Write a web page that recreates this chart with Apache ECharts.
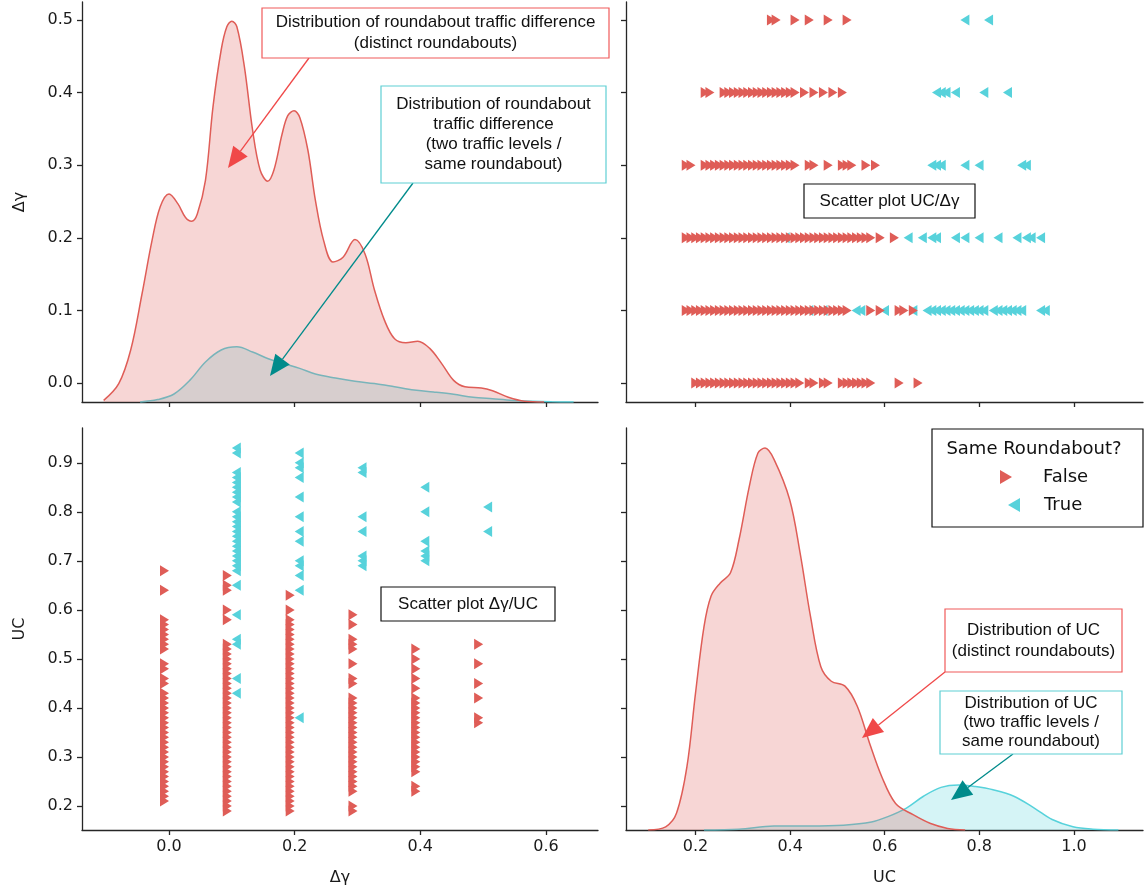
<!DOCTYPE html>
<html>
<head>
<meta charset="utf-8">
<script src="https://cdn.jsdelivr.net/npm/echarts@6/dist/echarts.min.js"></script>
<style>
html, body { margin: 0; padding: 0; background: #fff; }
#chart { width: 1148px; height: 892px; }
</style>
</head>
<body>
<div id="chart"></div>
<script>
// discrete Δγ levels
var dgLevels = [0.0, 0.1, 0.2, 0.3, 0.4, 0.5];

// UC values per Δγ level, Same Roundabout? = False
var ucFalse = [
    [0.21, 0.22, 0.23, 0.24, 0.25, 0.26, 0.27, 0.28, 0.29, 0.30, 0.31, 0.32, 0.33, 0.34, 0.35, 0.36, 0.37, 0.38, 0.39, 0.40, 0.41, 0.42, 0.43, 0.45, 0.46, 0.48, 0.49, 0.52, 0.53, 0.54, 0.55, 0.56, 0.57, 0.58, 0.64, 0.68],
    [0.19, 0.20, 0.21, 0.22, 0.23, 0.24, 0.25, 0.26, 0.27, 0.28, 0.29, 0.30, 0.31, 0.32, 0.33, 0.34, 0.35, 0.36, 0.37, 0.38, 0.39, 0.40, 0.41, 0.42, 0.43, 0.44, 0.45, 0.46, 0.47, 0.48, 0.49, 0.50, 0.51, 0.52, 0.53, 0.58, 0.60, 0.64, 0.65, 0.67],
    [0.19, 0.20, 0.21, 0.22, 0.23, 0.24, 0.25, 0.26, 0.27, 0.28, 0.29, 0.30, 0.31, 0.32, 0.33, 0.34, 0.35, 0.36, 0.37, 0.38, 0.39, 0.40, 0.41, 0.42, 0.43, 0.44, 0.45, 0.46, 0.47, 0.48, 0.49, 0.50, 0.51, 0.52, 0.53, 0.54, 0.55, 0.56, 0.57, 0.58, 0.60, 0.63],
    [0.19, 0.20, 0.23, 0.24, 0.25, 0.26, 0.27, 0.28, 0.29, 0.30, 0.31, 0.32, 0.33, 0.34, 0.35, 0.36, 0.37, 0.38, 0.39, 0.40, 0.41, 0.42, 0.45, 0.46, 0.49, 0.52, 0.53, 0.54, 0.57, 0.59],
    [0.23, 0.24, 0.27, 0.28, 0.29, 0.30, 0.31, 0.32, 0.33, 0.34, 0.35, 0.36, 0.37, 0.38, 0.39, 0.40, 0.41, 0.42, 0.44, 0.46, 0.48, 0.50, 0.52],
    [0.37, 0.38, 0.42, 0.45, 0.49, 0.53]
];

// UC values per Δγ level, Same Roundabout? = True
var ucTrue = [
    [],
    [0.43, 0.46, 0.53, 0.54, 0.59, 0.65, 0.68, 0.69, 0.70, 0.71, 0.72, 0.73, 0.74, 0.75, 0.76, 0.77, 0.78, 0.79, 0.80, 0.82, 0.83, 0.84, 0.85, 0.86, 0.87, 0.88, 0.92, 0.93],
    [0.38, 0.64, 0.67, 0.69, 0.70, 0.74, 0.76, 0.79, 0.83, 0.87, 0.89, 0.90, 0.92],
    [0.69, 0.70, 0.71, 0.76, 0.79, 0.88, 0.89],
    [0.70, 0.71, 0.72, 0.74, 0.80, 0.85],
    [0.76, 0.81]
];

// KDE of Δγ
var kdeDgFalseX = [-0.104, -0.08, -0.061, -0.043, -0.027, -0.014, 0.0, 0.014, 0.026, 0.036, 0.045, 0.058, 0.070, 0.083, 0.092, 0.1, 0.108, 0.12, 0.133, 0.145, 0.157, 0.167, 0.18, 0.189, 0.199, 0.208, 0.221, 0.233, 0.246, 0.261, 0.277, 0.296, 0.312, 0.327, 0.343, 0.359, 0.377, 0.396, 0.415, 0.434, 0.453, 0.471, 0.497, 0.515, 0.54, 0.566, 0.597];
var kdeDgFalseY = [0.02, 0.23, 0.65, 1.35, 2.02, 2.44, 2.60, 2.48, 2.31, 2.26, 2.35, 2.77, 3.69, 4.40, 4.69, 4.76, 4.69, 4.19, 3.40, 2.90, 2.76, 2.90, 3.35, 3.58, 3.64, 3.56, 3.15, 2.52, 2.02, 1.75, 1.81, 2.03, 1.85, 1.40, 1.02, 0.79, 0.74, 0.76, 0.67, 0.48, 0.27, 0.19, 0.175, 0.14, 0.06, 0.01, 0];
var kdeDgTrueX = [-0.046, -0.018, 0.008, 0.033, 0.058, 0.083, 0.108, 0.133, 0.158, 0.183, 0.208, 0.233, 0.265, 0.296, 0.327, 0.359, 0.39, 0.421, 0.453, 0.484, 0.515, 0.547, 0.578, 0.609, 0.644];
var kdeDgTrueY = [0, 0.03, 0.10, 0.27, 0.5, 0.65, 0.69, 0.625, 0.54, 0.48, 0.42, 0.35, 0.30, 0.26, 0.23, 0.19, 0.15, 0.125, 0.096, 0.06, 0.04, 0.02, 0.008, 0.002, 0];

// KDE of UC
var kdeUcFalseX = [0.10, 0.137, 0.16, 0.182, 0.2, 0.218, 0.233, 0.252, 0.274, 0.292, 0.314, 0.332, 0.347, 0.366, 0.399, 0.421, 0.443, 0.465, 0.487, 0.516, 0.542, 0.568, 0.594, 0.623, 0.66, 0.697, 0.733, 0.77];
var kdeUcFalseY = [0, 0.04, 0.21, 0.79, 1.70, 2.53, 2.91, 3.07, 3.2, 3.61, 4.28, 4.69, 4.75, 4.61, 4.11, 3.45, 2.66, 2.03, 1.85, 1.79, 1.54, 1.08, 0.66, 0.33, 0.19, 0.08, 0.02, 0];
var kdeUcTrueX = [0.218, 0.292, 0.366, 0.439, 0.513, 0.572, 0.608, 0.645, 0.682, 0.719, 0.756, 0.792, 0.829, 0.873, 0.917, 0.954, 0.998, 1.04, 1.094];
var kdeUcTrueY = [0, 0.01, 0.05, 0.05, 0.06, 0.1, 0.17, 0.27, 0.42, 0.53, 0.56, 0.54, 0.5, 0.42, 0.27, 0.13, 0.04, 0.01, 0];

// tick labels
var dgTicksX = [0.0, 0.2, 0.4, 0.6];
var dgTicksY = [0.0, 0.1, 0.2, 0.3, 0.4, 0.5];
var ucTicksX = [0.2, 0.4, 0.6, 0.8, 1.0];
var ucTicksY = [0.2, 0.3, 0.4, 0.5, 0.6, 0.7, 0.8, 0.9];

var RED = '#df5d57', TEAL = '#57d2db';
var AXIS = '#262626';
var TRI_R = 'path://M0,0L10,6L0,12Z';
var TRI_L = 'path://M10,0L0,6L10,12Z';

function pairs(xs, ys) {
    return xs.map(function (x, i) { return [x, ys[i]]; });
}
function points(lists, swap) {
    var out = [];
    lists.forEach(function (list, i) {
        list.forEach(function (uc) {
            out.push(swap ? [uc, dgLevels[i]] : [dgLevels[i], uc]);
        });
    });
    return out;
}

function axis(opt) {
    var showLabel = opt.labels !== false;
    var a = {
        type: 'value',
        gridIndex: opt.grid,
        min: opt.min,
        max: opt.max,
        scale: true,
        splitLine: {show: false},
        axisLine: {show: true, onZero: false, lineStyle: {color: AXIS, width: 1.3}},
        axisTick: {show: true, inside: false, length: 5, customValues: opt.ticks, lineStyle: {color: AXIS, width: 1.3}},
        axisLabel: {
            show: showLabel,
            customValues: opt.ticks,
            color: '#1a1a1a',
            fontSize: 16,
            fontFamily: 'DejaVu Sans',
            margin: 9,
            formatter: function (v) { return v.toFixed(1); }
        }
    };
    if (opt.name) {
        a.name = opt.name;
        a.nameLocation = 'middle';
        a.nameGap = opt.nameGap;
        a.nameTextStyle = {color: '#1a1a1a', fontSize: 16, fontFamily: 'DejaVu Sans'};
    }
    return a;
}

function densAxis(grid) {
    return {type: 'value', gridIndex: grid, min: 0, max: 5, show: false, splitLine: {show: false}};
}

// z keeps the red fill above the teal line, as in the reference
function kde(name, data, color, xi, yi, z) {
    return {
        name: name, type: 'line', xAxisIndex: xi, yAxisIndex: yi, z: z,
        data: data, smooth: 0.35, showSymbol: false, symbol: 'none',
        lineStyle: {color: color, width: 1.5},
        areaStyle: {color: color, opacity: 0.25},
        silent: true
    };
}

function scatter(name, data, color, sym, off, xi, yi, z) {
    return {
        name: name, type: 'scatter', xAxisIndex: xi, yAxisIndex: yi, z: z,
        data: data, symbol: sym, symbolSize: [9, 11], symbolOffset: [off, 0],
        itemStyle: {color: color, opacity: 1}, silent: true
    };
}

var FONT = '"Liberation Sans", Arial, sans-serif';

function box(x, y, w, h, stroke, lines, size, lh) {
    return [
        {type: 'rect', z: 100, shape: {x: x, y: y, width: w, height: h},
            style: {fill: '#fff', stroke: stroke, lineWidth: 1.2}},
        {type: 'text', z: 101, x: x + w / 2, y: y + h / 2,
            style: {text: lines.join('\n'), fill: '#111', font: size + 'px ' + FONT,
                align: 'center', verticalAlign: 'middle', textAlign: 'center', textVerticalAlign: 'middle', lineHeight: lh}}
    ];
}

function arrow(x1, y1, x2, y2, color) {
    var dx = x2 - x1, dy = y2 - y1, len = Math.sqrt(dx * dx + dy * dy);
    var ux = dx / len, uy = dy / len, L = 21, W = 9;
    var bx = x2 - ux * L, by = y2 - uy * L;
    return [
        {type: 'line', z: 100, shape: {x1: x1, y1: y1, x2: bx, y2: by}, style: {stroke: color, lineWidth: 1.3}},
        {type: 'polygon', z: 100, shape: {points: [[x2, y2], [bx - uy * W, by + ux * W], [bx + uy * W, by - ux * W]]},
            style: {fill: color}}
    ];
}

var LEG = '18px "DejaVu Sans"';
var graphics = [].concat(
    arrow(309, 58, 228, 168, '#f04848'),
    arrow(413, 183, 270, 376, '#008b8b'),
    arrow(945, 672, 862, 738, '#f04848'),
    arrow(1013, 754, 951, 800, '#008b8b'),
    box(262, 8, 347, 50, '#f05a5a', ['Distribution of roundabout traffic difference', '(distinct roundabouts)'], 17, 21),
    box(381, 86, 225, 97, '#5fcfd4', ['Distribution of roundabout', 'traffic difference', '(two traffic levels /', 'same roundabout)'], 17, 20),
    box(804, 184, 171, 34, '#111', ['Scatter plot UC/Δγ'], 17, 20),
    box(381, 587, 174, 34, '#111', ['Scatter plot Δγ/UC'], 17, 20),
    box(945, 609, 177, 63, '#f05a5a', ['Distribution of UC', '(distinct roundabouts)'], 17, 21),
    box(940, 691, 182, 63, '#5fcfd4', ['Distribution of UC', '(two traffic levels /', 'same roundabout)'], 17, 19),
    [
        {type: 'rect', z: 100, shape: {x: 932, y: 429, width: 211, height: 98},
            style: {fill: '#fff', stroke: '#111', lineWidth: 1.2}},
        {type: 'text', z: 101, x: 1034, y: 449,
            style: {text: 'Same Roundabout?', fill: '#111', font: LEG,
                align: 'center', verticalAlign: 'middle', textAlign: 'center', textVerticalAlign: 'middle'}},
        {type: 'polygon', z: 101, shape: {points: [[1000, 470], [1012, 477], [1000, 484]]}, style: {fill: RED}},
        {type: 'text', z: 101, x: 1043, y: 477,
            style: {text: 'False', fill: '#111', font: LEG,
                align: 'left', verticalAlign: 'middle', textAlign: 'left', textVerticalAlign: 'middle'}},
        {type: 'polygon', z: 101, shape: {points: [[1020, 498], [1008, 505], [1020, 512]]}, style: {fill: TEAL}},
        {type: 'text', z: 101, x: 1044, y: 505,
            style: {text: 'True', fill: '#111', font: LEG,
                align: 'left', verticalAlign: 'middle', textAlign: 'left', textVerticalAlign: 'middle'}}
    ]
);

var chart = echarts.init(document.getElementById('chart'));
chart.setOption({
    animation: false,
    backgroundColor: '#fff',
    grid: [
        {left: 82, top: 2, width: 516, height: 400},
        {left: 626, top: 2, width: 517, height: 400},
        {left: 82, top: 428, width: 516, height: 402},
        {left: 626, top: 428, width: 517, height: 402}
    ],
    xAxis: [
        axis({grid: 0, min: -0.1385, max: 0.6828, ticks: dgTicksX, labels: false}),
        axis({grid: 1, min: 0.0531, max: 1.146, ticks: ucTicksX, labels: false}),
        axis({grid: 2, min: -0.1385, max: 0.6828, ticks: dgTicksX, name: 'Δγ', nameGap: 40}),
        axis({grid: 3, min: 0.0531, max: 1.146, ticks: ucTicksX, name: 'UC', nameGap: 40})
    ],
    yAxis: [
        axis({grid: 0, min: -0.0262, max: 0.5248, ticks: dgTicksY, name: 'Δγ', nameGap: 54}),
        axis({grid: 1, min: -0.0262, max: 0.5248, ticks: dgTicksY, labels: false}),
        axis({grid: 2, min: 0.151, max: 0.971, ticks: ucTicksY, name: 'UC', nameGap: 54}),
        axis({grid: 3, min: 0.151, max: 0.971, ticks: ucTicksY, labels: false}),
        densAxis(0),
        densAxis(3)
    ],
    series: [
        kde('True', pairs(kdeDgTrueX, kdeDgTrueY), TEAL, 0, 4, 2),
        kde('False', pairs(kdeDgFalseX, kdeDgFalseY), RED, 0, 4, 3),
        scatter('True', points(ucTrue, true), TEAL, TRI_L, 4.5, 1, 1, 2),
        scatter('False', points(ucFalse, true), RED, TRI_R, -4.5, 1, 1, 3),
        scatter('True', points(ucTrue, false), TEAL, TRI_L, 4.5, 2, 2, 2),
        scatter('False', points(ucFalse, false), RED, TRI_R, -4.5, 2, 2, 3),
        kde('True', pairs(kdeUcTrueX, kdeUcTrueY), TEAL, 3, 5, 2),
        kde('False', pairs(kdeUcFalseX, kdeUcFalseY), RED, 3, 5, 3)
    ],
    graphic: graphics
});
</script>
</body>
</html>
